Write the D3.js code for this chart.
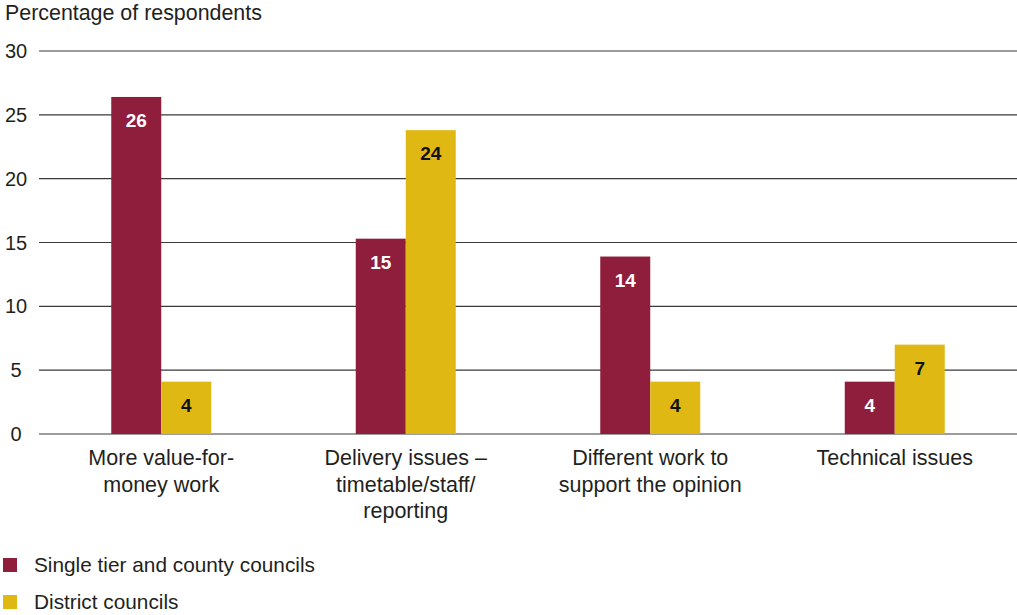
<!DOCTYPE html>
<html>
<head>
<meta charset="utf-8">
<script src="https://cdn.jsdelivr.net/npm/d3@7"></script>
<style>
  html, body { margin: 0; padding: 0; background: #ffffff; }
  svg { display: block; font-family: "Liberation Sans", Arial, Helvetica, sans-serif; }
</style>
</head>
<body>
<svg id="chart" width="1017" height="615"></svg>
<script>
// Reasons given, by council type (percentage of respondents)
const categories = [
  ["More value-for-", "money work"],
  ["Delivery issues \u2013", "timetable/staff/", "reporting"],
  ["Different work to", "support the opinion"],
  ["Technical issues"]
];
const seriesNames = ["Single tier and county councils", "District councils"];
const singleTier = [26.4, 15.3, 13.9, 4.1];
const district = [4.1, 23.8, 4.1, 7.0];
const yTicks = [0, 5, 10, 15, 20, 25, 30];
const colours = ["#8e1e3c", "#dfb813"];
const labelColours = ["#ffffff", "#111111"];

const svg = d3.select("#chart");
const plot = { left: 39, right: 1017, top: 51, bottom: 434 };
const textColour = "#231f20";

const x = d3.scaleBand().domain(d3.range(categories.length)).range([plot.left, plot.right]).padding(0);
const inner = d3.scaleBand().domain([0, 1]).range([0, 100]);
const y = d3.scaleLinear().domain([0, 30]).range([plot.bottom, plot.top]);

// Axis title
svg.append("text")
  .attr("x", 5).attr("y", 20)
  .attr("font-size", 21.4).attr("fill", textColour)
  .text("Percentage of respondents");

// Gridlines
svg.append("g").selectAll("line").data(yTicks).join("line")
  .attr("x1", plot.left).attr("x2", plot.right)
  .attr("y1", d => y(d)).attr("y2", d => y(d))
  .attr("stroke", "#3a3a3a").attr("stroke-width", 1.2);

// Tick labels
svg.append("g").selectAll("text").data(yTicks).join("text")
  .attr("x", 16).attr("y", d => y(d) + 7)
  .attr("text-anchor", "middle")
  .attr("font-size", 20).attr("fill", textColour)
  .text(d => d);

// Bars
const series = [singleTier, district];
const barData = [];
series.forEach((vals, s) => vals.forEach((v, i) => barData.push({ s, i, v })));

const barX = d => x(d.i) + x.bandwidth() / 2 - 50 + inner(d.s);
svg.append("g").selectAll("rect").data(barData).join("rect")
  .attr("x", barX)
  .attr("width", inner.bandwidth())
  .attr("y", d => y(d.v))
  .attr("height", d => y(0) - y(d.v))
  .attr("fill", d => colours[d.s]);

// Value labels
svg.append("g").selectAll("text").data(barData).join("text")
  .attr("x", d => barX(d) + inner.bandwidth() / 2)
  .attr("y", d => y(d.v) + 30)
  .attr("text-anchor", "middle")
  .attr("font-size", 19).attr("font-weight", "bold")
  .attr("fill", d => labelColours[d.s])
  .text(d => d3.format(".0f")(d.v));

// Category labels
const cat = svg.append("g").selectAll("text").data(categories).join("text")
  .attr("text-anchor", "middle")
  .attr("font-size", 21.5).attr("fill", textColour);
cat.selectAll("tspan").data((d, i) => d.map(line => ({ line, i }))).join("tspan")
  .attr("x", d => x(d.i) + x.bandwidth() / 2)
  .attr("y", (d, j) => 465 + j * 26.5)
  .text(d => d.line);

// Legend
const legend = svg.append("g").selectAll("g").data(seriesNames).join("g")
  .attr("transform", (d, i) => `translate(0, ${565 + i * 37})`);
legend.append("rect")
  .attr("x", 3).attr("y", -7).attr("width", 14).attr("height", 14)
  .attr("fill", (d, i) => colours[i]);
legend.append("text")
  .attr("x", 34).attr("y", 7)
  .attr("font-size", 20.8).attr("fill", textColour)
  .text(d => d);
</script>
</body>
</html>
